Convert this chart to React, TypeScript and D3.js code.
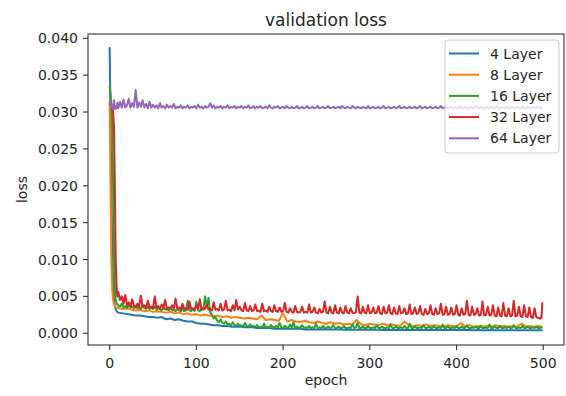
import React from "react";
import * as d3 from "d3";

const W = 566;
const H = 396;

// epoch grids: first ten epochs one by one, then a coarser grid, then the last epoch
const epochsHead = [0, 1, 2, 3, 4, 5, 6, 7, 8, 9];
const epochsStep5 = [...epochsHead, ...d3.range(10, 500, 5), 499];
const epochsStep2 = [...epochsHead, ...d3.range(10, 500, 2), 499];

const seriesNames = ["4 Layer", "8 Layer", "16 Layer", "32 Layer", "64 Layer"];
const seriesColors = ["#1f77b4", "#ff7f0e", "#2ca02c", "#d62728", "#9467bd"];

// 4 Layer (epochsStep5)
const layer4 = [
  0.0388, 0.0300, 0.0190, 0.0110, 0.0065, 0.0045, 0.0037, 0.0033, 0.0030, 0.0029,
  0.0028, 0.0027, 0.0026, 0.0025, 0.0024, 0.0024, 0.0023, 0.0022, 0.0022, 0.0021,
  0.0022, 0.0019, 0.0020, 0.0018, 0.0019, 0.0017, 0.0016, 0.0016, 0.0014, 0.0013,
  0.0013, 0.0012, 0.0011, 0.0011, 0.0010, 0.0010, 0.0009, 0.0009, 0.0009, 0.0008,
  0.0008, 0.0008, 0.0007, 0.0007, 0.0007, 0.0007, 0.0006, 0.0006, 0.0006, 0.0006,
  0.0006, 0.0006, 0.0006, 0.0005, 0.0005, 0.0005, 0.0005, 0.0005, 0.0005, 0.0005,
  0.0005, 0.0005, 0.00048, 0.0005, 0.00048, 0.00048, 0.0005, 0.00047, 0.00047, 0.00048,
  0.00047, 0.00046, 0.00047, 0.00046, 0.00046, 0.00047, 0.00045, 0.00046, 0.00045, 0.00045,
  0.00045, 0.00046, 0.00044, 0.00045, 0.00044, 0.00044, 0.00045, 0.00043, 0.00044, 0.00043,
  0.00043, 0.00044, 0.00042, 0.00043, 0.00042, 0.00042, 0.00043, 0.00042, 0.00041, 0.00042,
  0.00041, 0.00042, 0.00041, 0.00041, 0.0004, 0.00041, 0.0004, 0.0004,
  0.0004,
];

// 8 Layer (epochsStep5)
const layer8 = [
  0.0315, 0.0200, 0.0100, 0.0060, 0.0045, 0.0040, 0.0037, 0.0036, 0.0035, 0.0035,
  0.0034, 0.0033, 0.0034, 0.0032, 0.0031, 0.0032, 0.0030, 0.0031, 0.0029, 0.0030,
  0.0029, 0.0028, 0.0029, 0.0027, 0.0028, 0.0026, 0.0027, 0.0025, 0.0026, 0.0024,
  0.0025, 0.0024, 0.0023, 0.0024, 0.0022, 0.0023, 0.0021, 0.0022, 0.0021, 0.0020,
  0.0021, 0.0020, 0.0019, 0.0024, 0.0018, 0.0019, 0.0018, 0.0017, 0.0027, 0.0016,
  0.0018, 0.0016, 0.0015, 0.0017, 0.0015, 0.0014, 0.0016, 0.0014, 0.0013, 0.0015,
  0.0013, 0.0014, 0.0012, 0.0013, 0.0012, 0.0018, 0.0012, 0.0011, 0.0013, 0.0012,
  0.0011, 0.0013, 0.0011, 0.0012, 0.0011, 0.0010, 0.0016, 0.0011, 0.0010, 0.0011,
  0.0010, 0.0012, 0.0010, 0.0011, 0.0010, 0.0009, 0.0011, 0.0010, 0.0009, 0.0014,
  0.0009, 0.0011, 0.0009, 0.0010, 0.0009, 0.0010, 0.0009, 0.0011, 0.0009, 0.0010,
  0.0009, 0.0010, 0.0009, 0.0013, 0.0009, 0.0010, 0.0009, 0.0010,
  0.0009,
];

// 16 Layer (epochsStep2)
const layer16 = [
  .0335, .0325, .0310, .0280, .0200, .0110, .0060, .0045, .0041, .0039,
  .0038, .0036, .0040, .0035, .0037, .0034, .0039, .0035, .0036, .0034,
  .0037, .0034, .0035, .0033, .0038, .0034, .0033, .0036, .0033, .0034,
  .0033, .0036, .0032, .0034, .0033, .0031, .0035, .0032, .0033, .0031,
  .0034, .0031, .0032, .0030, .0033, .0031, .0030, .0034, .0030, .0031,
  .0044, .0031, .0030, .0033, .0030, .0043, .0031, .0030, .0034, .0032,
  .0050, .0036, .0048, .0028, .0025, .0020, .0022, .0017, .0015, .0019,
  .0014, .0013, .0016, .0012, .0013, .0011, .0015, .0011, .0010, .0013,
  .0010, .0011, .0009, .0014, .0010, .0009, .0012, .0009, .0010, .0008,
  .0011, .0008, .0009, .0008, .0013, .0008, .0009, .0008, .0011, .0008,
  .0008, .0010, .0008, .0014, .0008, .0007, .0010, .0008, .0007, .0012,
  .0008, .0015, .0007, .0009, .0007, .0008, .0011, .0007, .0008, .0007,
  .0010, .0007, .0008, .0007, .0013, .0007, .0008, .0007, .0010, .0007,
  .0007, .0009, .0007, .0008, .0011, .0007, .0007, .0009, .0007, .0007,
  .0010, .0007, .0007, .0008, .0007, .0012, .0007, .0008, .0014, .0007,
  .0007, .0009, .0007, .0007, .0010, .0007, .0007, .0008, .0007, .0011,
  .0007, .0007, .0009, .0007, .0007, .0008, .0007, .0012, .0007, .0007,
  .0009, .0007, .0007, .0008, .0007, .0010, .0007, .0007, .0013, .0007,
  .0007, .0009, .0007, .0007, .0008, .0007, .0011, .0007, .0007, .0009,
  .0007, .0007, .0010, .0007, .0007, .0008, .0007, .0012, .0007, .0007,
  .0009, .0007, .0007, .0008, .0007, .0010, .0007, .0007, .0009, .0007,
  .0007, .0011, .0007, .0007, .0008, .0007, .0009, .0007, .0007, .0010,
  .0007, .0007, .0008, .0007, .0012, .0007, .0007, .0009, .0007, .0007,
  .0010, .0007, .0007, .0008, .0007, .0009, .0007, .0007, .0011, .0007,
  .0007, .0008, .0007, .0010, .0007, .0007, .0009, .0007, .0007, .0008,
  .0007, .0009, .0007, .0007, .0008,
  .0007,
];

// 32 Layer (epochsStep2)
const layer32 = [
  .0312, .0310, .0308, .0305, .0300, .0280, .0200, .0100, .0062, .0050,
  .0056, .0045, .0050, .0040, .0052, .0038, .0042, .0036, .0046, .0037,
  .0035, .0040, .0036, .0051, .0036, .0038, .0034, .0044, .0035, .0036,
  .0034, .0050, .0035, .0037, .0033, .0039, .0034, .0045, .0033, .0035,
  .0034, .0038, .0033, .0047, .0034, .0035, .0032, .0040, .0033, .0034,
  .0032, .0043, .0033, .0034, .0032, .0038, .0033, .0046, .0032, .0034,
  .0033, .0039, .0032, .0033, .0031, .0042, .0032, .0033, .0031, .0040,
  .0031, .0032, .0044, .0031, .0032, .0030, .0038, .0031, .0045, .0032,
  .0036, .0031, .0030, .0041, .0031, .0030, .0037, .0030, .0031, .0039,
  .0030, .0031, .0029, .0040, .0030, .0031, .0029, .0036, .0030, .0029,
  .0038, .0030, .0029, .0035, .0029, .0030, .0041, .0029, .0028, .0034,
  .0029, .0028, .0037, .0029, .0028, .0029, .0036, .0028, .0029, .0028,
  .0039, .0028, .0029, .0035, .0028, .0027, .0033, .0028, .0029, .0043,
  .0028, .0027, .0036, .0028, .0027, .0038, .0028, .0027, .0035, .0028,
  .0027, .0037, .0028, .0027, .0034, .0028, .0027, .0029, .0050, .0028,
  .0027, .0036, .0028, .0027, .0038, .0027, .0028, .0035, .0027, .0028,
  .0037, .0027, .0026, .0036, .0027, .0028, .0038, .0027, .0026, .0035,
  .0027, .0026, .0037, .0027, .0028, .0034, .0026, .0027, .0039, .0026,
  .0027, .0035, .0026, .0027, .0037, .0026, .0025, .0033, .0026, .0027,
  .0038, .0026, .0025, .0034, .0026, .0027, .0040, .0025, .0026, .0036,
  .0025, .0026, .0035, .0025, .0026, .0038, .0025, .0024, .0034, .0025,
  .0026, .0044, .0025, .0024, .0036, .0025, .0026, .0034, .0024, .0025,
  .0043, .0024, .0025, .0036, .0024, .0025, .0038, .0024, .0023, .0035,
  .0024, .0023, .0041, .0024, .0023, .0034, .0023, .0024, .0044, .0023,
  .0024, .0036, .0023, .0022, .0038, .0023, .0022, .0035, .0022, .0021,
  .0034, .0022, .0021, .0020, .0021,
  .0042,
];

// 64 Layer (epochsStep2)
const layer64 = [
  .0318, .0313, .0306, .0309, .0305, .0316, .0304, .0308, .0305, .0313,
  .0305, .0314, .0306, .0317, .0306, .0309, .0318, .0306, .0312, .0307,
  .0330, .0306, .0313, .0307, .0316, .0306, .0311, .0305, .0314, .0306,
  .0310, .0306, .0309, .0305, .0312, .0306, .0308, .0305, .0310, .0306,
  .0308, .0306, .0311, .0305, .0307, .0306, .0309, .0305, .0307, .0306,
  .0309, .0305, .0307, .0306, .0308, .0305, .0310, .0306, .0307, .0305,
  .0308, .0306, .0307, .0312, .0306, .0309, .0305, .0307, .0306, .0308,
  .0305, .0307, .0306, .0309, .0305, .0307, .0306, .0308, .0305, .0307,
  .0306, .0308, .0305, .0307, .0306, .0309, .0305, .0306, .0308, .0305,
  .0307, .0306, .0308, .0305, .0306, .0307, .0305, .0309, .0306, .0305,
  .0307, .0306, .0308, .0305, .0306, .0307, .0305, .0308, .0306, .0305,
  .0307, .0305, .0306, .0308, .0305, .0306, .0307, .0305, .0306, .0308,
  .0305, .0306, .0307, .0305, .0306, .0308, .0305, .0306, .0307, .0305,
  .0306, .0308, .0305, .0306, .0307, .0305, .0306, .0307, .0305, .0308,
  .0306, .0305, .0307, .0306, .0305, .0308, .0306, .0305, .0307, .0306,
  .0305, .0307, .0306, .0305, .0308, .0305, .0306, .0307, .0305, .0306,
  .0307, .0305, .0306, .0308, .0305, .0306, .0307, .0305, .0306, .0307,
  .0305, .0306, .0308, .0305, .0306, .0307, .0305, .0306, .0307, .0305,
  .0306, .0307, .0305, .0306, .0308, .0305, .0306, .0307, .0305, .0306,
  .0307, .0305, .0306, .0307, .0305, .0306, .0308, .0305, .0306, .0307,
  .0305, .0306, .0307, .0305, .0306, .0307, .0305, .0308, .0306, .0305,
  .0307, .0306, .0305, .0307, .0306, .0305, .0308, .0306, .0305, .0307,
  .0306, .0305, .0307, .0306, .0305, .0307, .0306, .0305, .0308, .0306,
  .0305, .0307, .0306, .0305, .0307, .0306, .0305, .0307, .0306, .0305,
  .0307, .0306, .0305, .0308, .0306, .0305, .0307, .0306, .0305, .0307,
  .0306, .0305, .0307, .0306, .0305,
  .0306,
];

const seriesValues = [layer4, layer8, layer16, layer32, layer64];
const seriesEpochs = [epochsStep5, epochsStep5, epochsStep2, epochsStep2, epochsStep2];

const xTicks = [0, 100, 200, 300, 400, 500];
const yTicks = [0, 0.005, 0.01, 0.015, 0.02, 0.025, 0.03, 0.035, 0.04];

const titleText = "validation loss";
const xLabel = "epoch";
const yLabel = "loss";

export default function App() {
  const left = 88, right = 564, top = 34, bottom = 345;
  const x = d3.scaleLinear().domain([-24.95, 523.95]).range([left, right]);
  const y = d3.scaleLinear().domain([-0.00159, 0.04058]).range([bottom, top]);
  const fmt = d3.format(".3f");
  const font = "'DejaVu Sans', sans-serif";
  const txt = "#262626";

  const line = d3
    .line<[number, number]>()
    .x((d) => x(d[0]))
    .y((d) => y(d[1]));

  const legX = 445, legY = 40, legW = 114, legH = 113;
  const rowY0 = 53.5, rowDy = 21.2;

  return (
    <svg
      width={W}
      height={H}
      style={{ position: "absolute", left: 0, top: 0, background: "#fff" }}
      fontFamily={font}
    >
      <rect x={0} y={0} width={W} height={H} fill="#fff" />
      <defs>
        <clipPath id="plotclip">
          <rect x={left} y={top} width={right - left} height={bottom - top} />
        </clipPath>
      </defs>
      <g clipPath="url(#plotclip)">
        {seriesValues.map((vals, i) => (
          <path
            key={seriesNames[i]}
            d={
              line(
                seriesEpochs[i].map((e, k) => [e, vals[k]] as [number, number])
              ) || ""
            }
            fill="none"
            stroke={seriesColors[i]}
            strokeWidth={2}
            strokeLinejoin="round"
          />
        ))}
      </g>
      <rect
        x={left}
        y={top}
        width={right - left}
        height={bottom - top}
        fill="none"
        stroke="#333"
        strokeWidth={1.1}
      />
      {xTicks.map((t) => (
        <g key={"x" + t}>
          <line x1={x(t)} x2={x(t)} y1={bottom} y2={bottom + 5} stroke="#333" strokeWidth={1.1} />
          <text x={x(t)} y={368} textAnchor="middle" fontSize={14} fill={txt}>
            {t}
          </text>
        </g>
      ))}
      {yTicks.map((t) => (
        <g key={"y" + t}>
          <line x1={left - 5} x2={left} y1={y(t)} y2={y(t)} stroke="#333" strokeWidth={1.1} />
          <text x={78} y={y(t) + 5} textAnchor="end" fontSize={14} fill={txt}>
            {fmt(t)}
          </text>
        </g>
      ))}
      <text x={(left + right) / 2} y={26} textAnchor="middle" fontSize={17} fill={txt}>
        {titleText}
      </text>
      <text x={(left + right) / 2} y={385} textAnchor="middle" fontSize={14} fill={txt}>
        {xLabel}
      </text>
      <text
        transform={`translate(27, ${(top + bottom) / 2}) rotate(-90)`}
        textAnchor="middle"
        fontSize={14}
        fill={txt}
      >
        {yLabel}
      </text>
      <rect
        x={legX}
        y={legY}
        width={legW}
        height={legH}
        rx={3}
        fill="#fff"
        fillOpacity={0.8}
        stroke="#ccc"
        strokeWidth={1}
      />
      {seriesNames.map((n, i) => (
        <g key={"leg" + n}>
          <line
            x1={449}
            x2={479}
            y1={rowY0 + i * rowDy}
            y2={rowY0 + i * rowDy}
            stroke={seriesColors[i]}
            strokeWidth={2}
          />
          <text x={490} y={rowY0 + i * rowDy + 5} fontSize={14} fill={txt}>
            {n}
          </text>
        </g>
      ))}
    </svg>
  );
}
